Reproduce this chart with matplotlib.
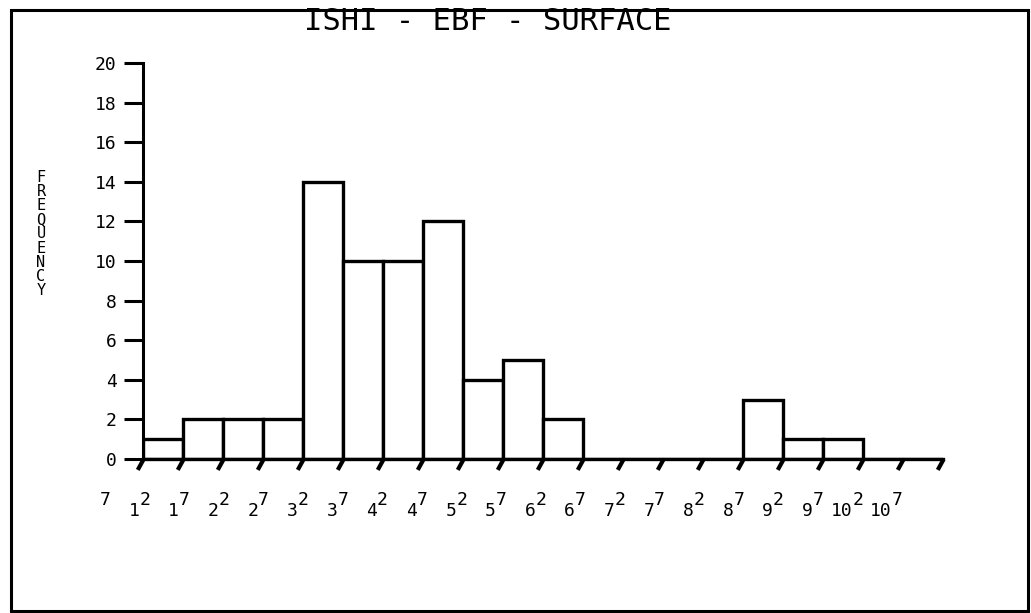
import matplotlib
matplotlib.use("Agg")
import matplotlib.pyplot as plt
import numpy as np
from matplotlib.patches import Rectangle

# ---- data ----
title = "ISHI - EBF - SURFACE"
ylabel = "FREQUENCY"
counts = [1, 2, 2, 2, 14, 10, 10, 12, 4, 5, 2, 0, 0, 0, 0, 3, 1, 1, 0, 0]
label_base = ["", "1", "1", "2", "2", "3", "3", "4", "4", "5", "5", "6", "6",
              "7", "7", "8", "8", "9", "9", "10", "10"]
label_sup = ["7", "2", "7", "2", "7", "2", "7", "2", "7", "2", "7", "2", "7",
             "2", "7", "2", "7", "2", "7", "2", "7"]
yticks = list(range(0, 21, 2))

W, H = 1031, 613
fig = plt.figure(figsize=(W / 100, H / 100), dpi=100)
fig.patch.set_facecolor("white")
mono = "DejaVu Sans Mono"

# outer frame
fig.add_artist(Rectangle((11 / W, 1 - 611 / H), (1028 - 11) / W, (611 - 10) / H,
                         transform=fig.transFigure, fill=False, edgecolor="black",
                         linewidth=2.2))

ax = fig.add_axes([143 / W, 1 - 459 / H, 800 / W, 396 / H])
ax.set_xlim(0, 20)
ax.set_ylim(0, 20)
ax.patch.set_alpha(0)
for s in ["top", "right", "bottom"]:
    ax.spines[s].set_visible(False)
ax.spines["left"].set_linewidth(2.2)

# bars
n = len(counts)
ax.bar(np.arange(n), counts, width=1.0, align="edge", facecolor="white",
       edgecolor="black", linewidth=2.4, zorder=2)

# x axis line
ax.plot([0, n], [0, 0], color="black", lw=2.4, clip_on=False, zorder=3)
# slanted x ticks
edges = np.arange(n + 1)
ax.plot(edges, np.zeros(len(edges)), ls="none", marker=[(0, 0), (-0.55, -1)],
        markersize=15, mew=3.0, mec="black", mfc="black", clip_on=False, zorder=3)
ax.set_xticks([])

# y ticks
ax.set_yticks(yticks)
ax.set_yticklabels([str(v) for v in yticks], fontfamily=mono, fontsize=13)
ax.tick_params(axis="y", direction="out", length=14, width=2.2, pad=5)

# x tick labels: base digit + raised digit
for k, (b, s) in enumerate(zip(label_base, label_sup)):
    xb = (k - 1) - 0.08 - 0.01 * k
    if b:
        ax.text(xb, -2.9, b, ha="right", va="baseline", fontfamily=mono,
                fontsize=13, clip_on=False)
    ax.text(xb, -2.3, s, ha="left", va="baseline", fontfamily=mono,
            fontsize=13, clip_on=False)

# title
fig.text(488 / W, 1 - 21 / H, title, ha="center", va="center", fontfamily=mono,
         fontsize=22)

# vertical stacked y label
fig.text(41 / W, 1 - 234 / H, "\n".join(ylabel), ha="center", va="center",
         fontfamily=mono, fontsize=11, linespacing=0.92)

fig.savefig("out.png", dpi=100, facecolor="white")
